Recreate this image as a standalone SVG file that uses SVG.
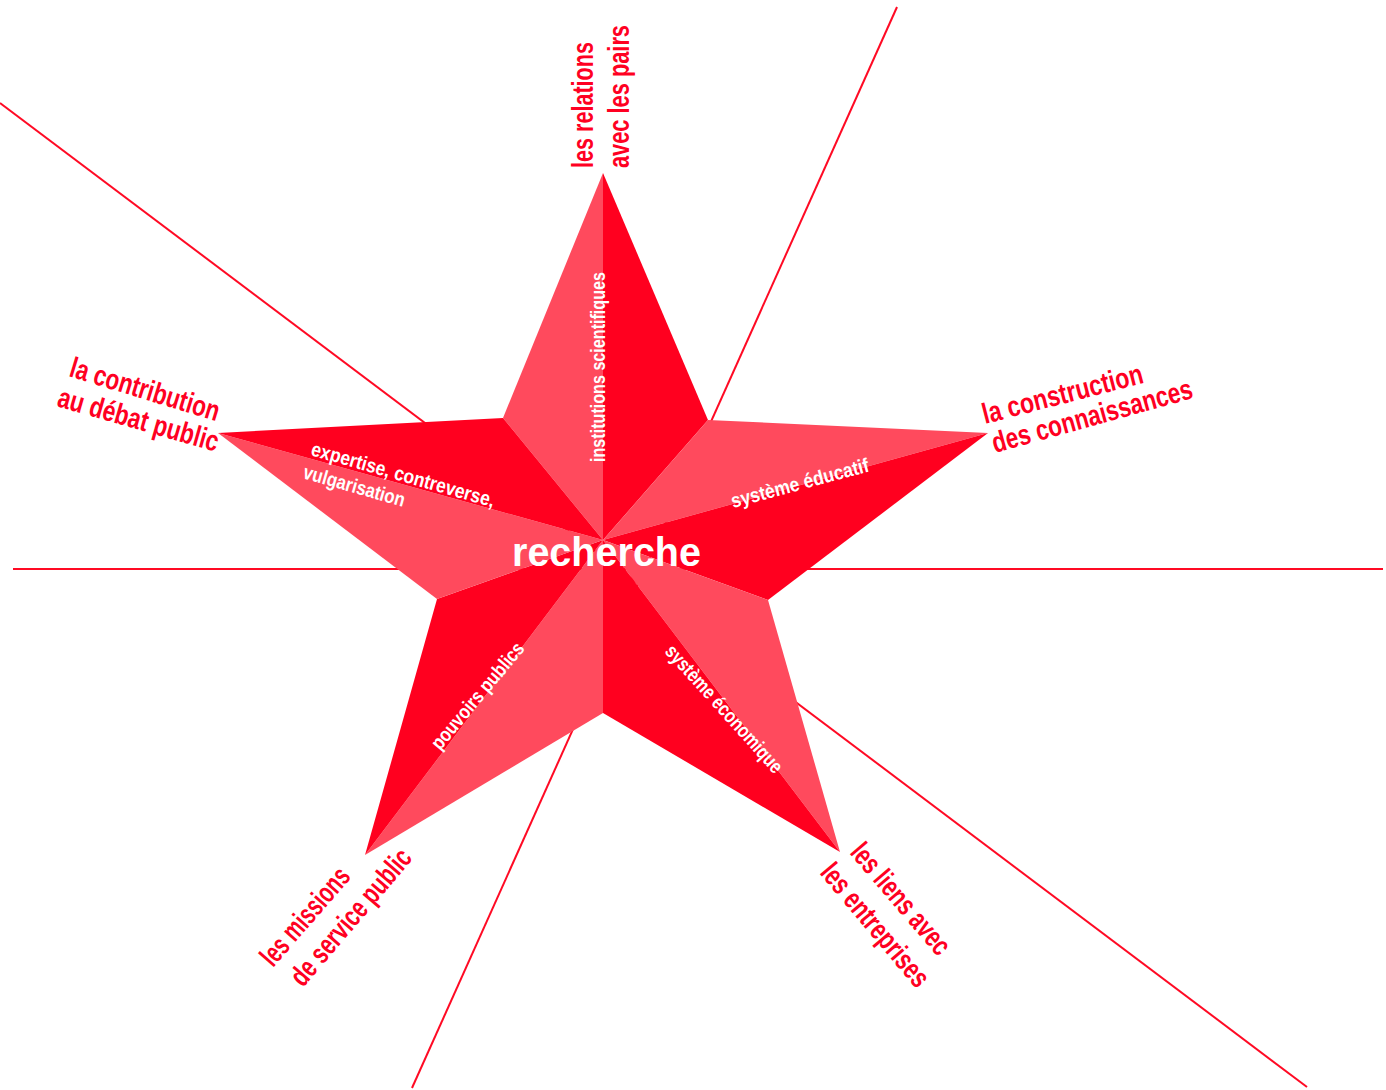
<svg xmlns="http://www.w3.org/2000/svg" width="1386" height="1090" viewBox="0 0 1386 1090">
<style>
.ln{stroke:#ff0a24;stroke-width:2;fill:none}
.dk{fill:#ff001f}
.lt{fill:#ff4a5d}
.lbl{font-family:"Liberation Sans Narrow","Liberation Sans",Arial,sans-serif;font-weight:bold;font-size:29px;fill:#ff0022}
.in{font-family:"Liberation Sans Narrow","Liberation Sans",Arial,sans-serif;font-weight:bold;font-size:20px;fill:#ffffff}
.ctr{font-family:"Liberation Sans Narrow","Liberation Sans",Arial,sans-serif;font-weight:bold;font-size:41px;fill:#ffffff}
</style>
<rect width="1386" height="1090" fill="#ffffff"/>
<g id="connectors">
<line class="ln" x1="13" y1="569" x2="1383" y2="569"/>
<line class="ln" x1="0" y1="103" x2="1307" y2="1087"/>
<line class="ln" x1="897" y1="7" x2="412" y2="1088"/>
</g>
<g id="star">
<polygon class="lt" points="503,418 603,173 603,540"/>
<polygon class="dk" points="603,173 708,420 603,540"/>
<polygon class="lt" points="708,420 988,433 603,540"/>
<polygon class="dk" points="988,433 768,600 603,540"/>
<polygon class="lt" points="768,600 840,852 603,540"/>
<polygon class="dk" points="840,852 603,713 603,540"/>
<polygon class="lt" points="603,713 365,855 603,540"/>
<polygon class="dk" points="365,855 437,599 603,540"/>
<polygon class="lt" points="437,599 218,433 603,540"/>
<polygon class="dk" points="218,433 503,418 603,540"/>
</g>
<g id="center">
<text class="ctr" x="512" y="566" textLength="189" lengthAdjust="spacingAndGlyphs">recherche</text>
</g>
<g id="node-top">
<text class="lbl" transform="translate(593,168) rotate(-90)" textLength="126" lengthAdjust="spacingAndGlyphs">les relations</text>
<text class="lbl" transform="translate(629,168) rotate(-90)" textLength="143" lengthAdjust="spacingAndGlyphs">avec les pairs</text>
<text class="in" transform="translate(605,462) rotate(-90)" textLength="190" lengthAdjust="spacingAndGlyphs">institutions scientifiques</text>
</g>
<g id="node-left">
<text class="lbl" transform="translate(68,376) rotate(17)" textLength="155" lengthAdjust="spacingAndGlyphs">la contribution</text>
<text class="lbl" transform="translate(56,406) rotate(16)" textLength="166" lengthAdjust="spacingAndGlyphs">au débat public</text>
<text class="in" transform="translate(310,455) rotate(16)" textLength="190" lengthAdjust="spacingAndGlyphs">expertise, contreverse,</text>
<text class="in" transform="translate(302,478) rotate(16)" textLength="105" lengthAdjust="spacingAndGlyphs">vulgarisation</text>
</g>
<g id="node-right">
<text class="lbl" transform="translate(985,424) rotate(-14.5)" textLength="165" lengthAdjust="spacingAndGlyphs">la construction</text>
<text class="lbl" transform="translate(995,453) rotate(-15.5)" textLength="207" lengthAdjust="spacingAndGlyphs">des connaissances</text>
<text class="in" transform="translate(733,508) rotate(-15)" textLength="142" lengthAdjust="spacingAndGlyphs">système éducatif</text>
</g>
<g id="node-bottom-left">
<text class="lbl" transform="translate(273,968) rotate(-49)" textLength="120" lengthAdjust="spacingAndGlyphs">les missions</text>
<text class="lbl" transform="translate(303,988) rotate(-49.5)" textLength="170" lengthAdjust="spacingAndGlyphs">de service public</text>
<text class="in" transform="translate(440,751) rotate(-50)" textLength="133" lengthAdjust="spacingAndGlyphs">pouvoirs publics</text>
</g>
<g id="node-bottom-right">
<text class="lbl" transform="translate(849,853) rotate(49.5)" textLength="137" lengthAdjust="spacingAndGlyphs">les liens avec</text>
<text class="lbl" transform="translate(819,873) rotate(50)" textLength="152" lengthAdjust="spacingAndGlyphs">les entreprises</text>
<text class="in" transform="translate(664,652) rotate(48)" textLength="165" lengthAdjust="spacingAndGlyphs">système économique</text>
</g>
</svg>
